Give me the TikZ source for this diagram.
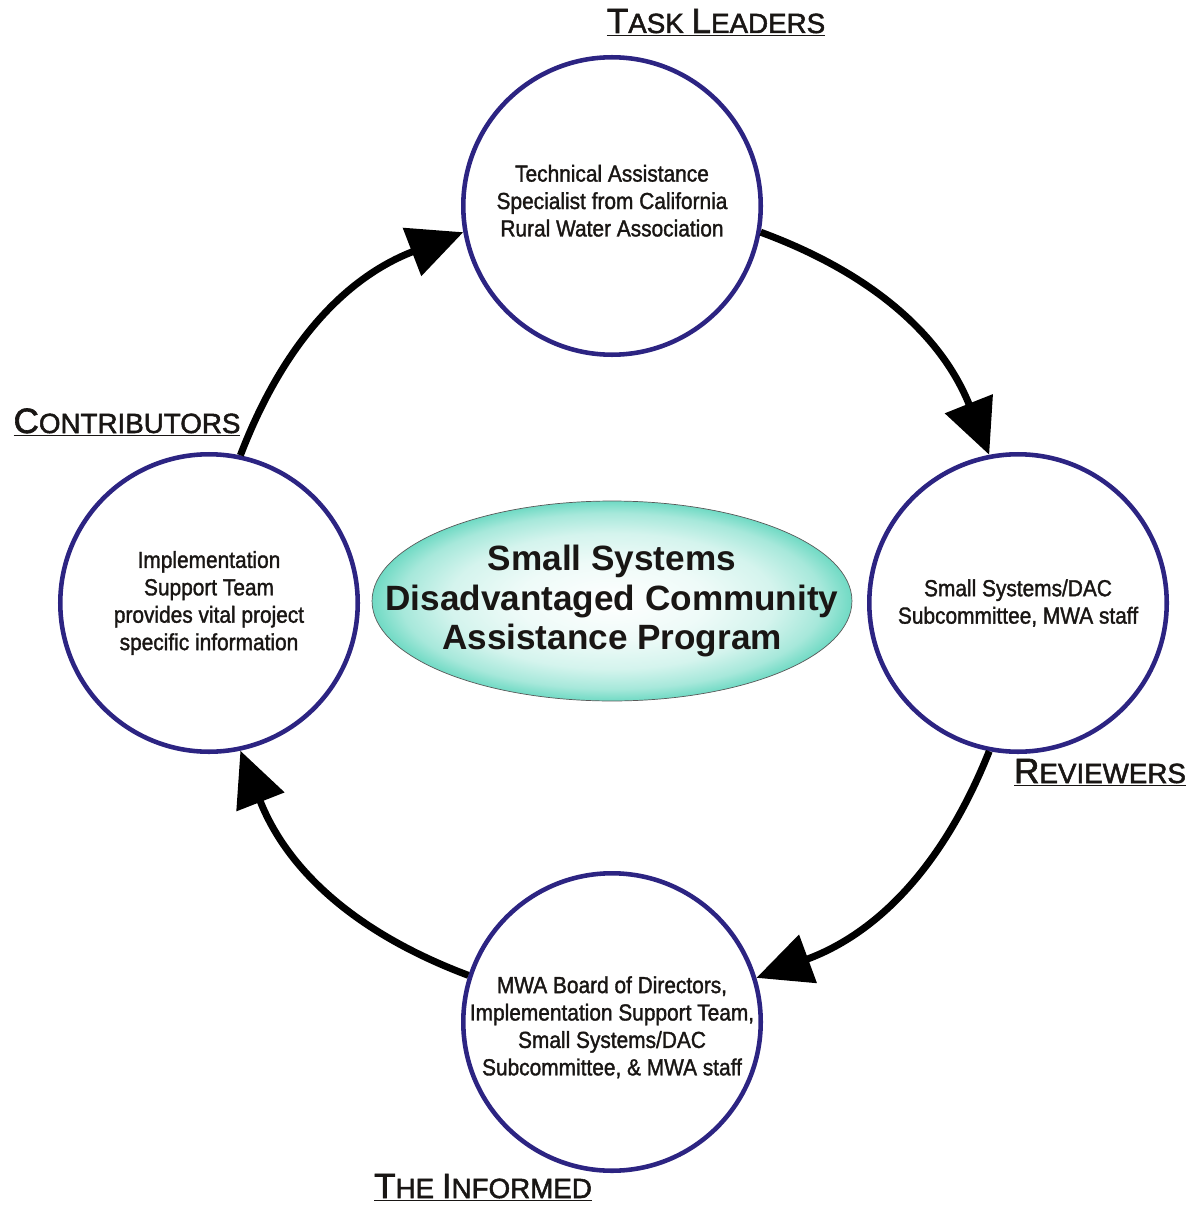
\documentclass[tikz,border=0pt]{standalone}
\usepackage{fontspec}
\setmainfont{Liberation Sans}
\newfontfamily\circfont[FakeStretch=0.9, FakeBold=1.5]{Liberation Sans}
\newfontfamily\rolefont[FakeBold=1.8]{Liberation Sans}
\usepackage{tikz}
\usetikzlibrary{shapes.geometric, arrows.meta}

\definecolor{ringblue}{RGB}{44,36,130}
\definecolor{aqua}{RGB}{112,218,196}
\definecolor{inktext}{RGB}{25,22,20}

\pgfdeclareradialshading{hubshade}{\pgfpoint{0bp}{0bp}}{color(0bp)=(white); color(10bp)=(aqua!12!white); color(17bp)=(aqua!30!white); color(22bp)=(aqua!62!white); color(25bp)=(aqua); color(50bp)=(aqua)}

\newcommand{\rolecap}[2]{{\fontsize{20}{24}\selectfont #1}#2}

\tikzset{
	ring/.style={circle, draw=ringblue, line width=2.6pt, minimum size=5.95cm},
	ringtext/.style={align=center, text=inktext, font=\circfont\fontsize{13.2}{15.6}\selectfont},
	hub/.style={ellipse, draw=black!65, thin, shading=hubshade, minimum width=9.6cm, minimum height=4cm},
	hubtext/.style={align=center, text=inktext, font=\bfseries\fontsize{20}{22.7}\selectfont},
	role/.style={anchor=base, text=inktext, font=\rolefont\fontsize{15.8}{19}\selectfont},
	flow/.style={line width=4pt, -{Triangle[length=1.1cm, width=1cm]}, bend left=24}
}

\begin{document}
\begin{tikzpicture}[x=0.02cm, y=0.02cm]
			\useasboundingbox (0,0) rectangle (1200,-1206);

			\node[hub, label={[hubtext]center:{Small Systems\\Disadvantaged Community\\Assistance Program}}] (prog) at (612,-601) {};

			\node[ring, label={[ringtext, yshift=3pt]center:{Technical Assistance\\Specialist from California\\Rural Water Association}}] (lead) at (612,-206) {};
			\node[ring, label={[ringtext]center:{Small Systems/DAC\\Subcommittee, MWA staff}}] (review) at (1018,-603) {};
			\node[ring, label={[ringtext, yshift=-3pt]center:{MWA Board of Directors,\\Implementation Support Team,\\Small Systems/DAC\\Subcommittee, \& MWA staff}}] (inform) at (612,-1022) {};
			\node[ring, label={[ringtext]center:{Implementation\\Support Team\\provides vital project\\specific information}}] (contrib) at (209,-603) {};

			\draw[flow] (lead.-10) to (review.101);
			\draw[flow] (review.-101) to (inform.17);
			\draw[flow] (inform.162) to (contrib.-78);
			\draw[flow] (contrib.78) to (lead.190);

			\node[role] (leadlab) at (716,-33) {\underline{\rolecap{T}{ASK} \rolecap{L}{EADERS}}};
			\node[role] (reviewlab) at (1100,-783) {\underline{\rolecap{R}{EVIEWERS}}};
			\node[role] (informlab) at (483,-1198) {\underline{\rolecap{T}{HE} \rolecap{I}{NFORMED}}};
			\node[role] (contriblab) at (127,-433) {\underline{\rolecap{C}{ONTRIBUTORS}}};
\end{tikzpicture}
\end{document}
